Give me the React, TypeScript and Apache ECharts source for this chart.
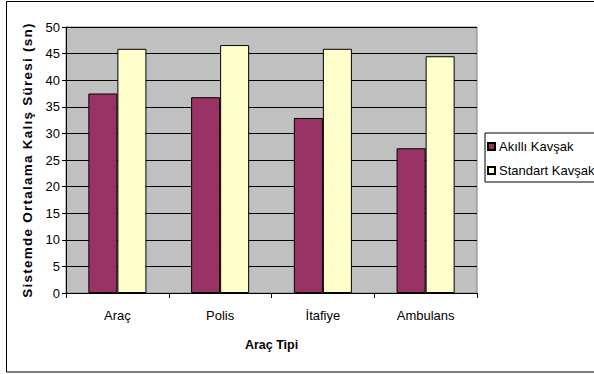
import React, { useEffect, useRef } from "react";
import * as echarts from "echarts";

const categories = ["Araç", "Polis", "İtafiye", "Ambulans"];
const akilliKavsak = [37.5, 36.8, 32.9, 27.2];
const standartKavsak = [45.9, 46.6, 45.9, 44.5];
const seriesNames = ["Akıllı Kavşak", "Standart Kavşak"];
const yAxisTitle = "Sistemde Ortalama Kalış Süresi (sn)";
const xAxisTitle = "Araç Tipi";

const FONT = "Liberation Sans, Arial, sans-serif";

export default function App() {
  const ref = useRef<HTMLDivElement>(null);
  useEffect(() => {
    if (!ref.current) return;
    const chart = echarts.init(ref.current, undefined, { renderer: "svg" });
    chart.setOption({
      animation: false,
      backgroundColor: "#ffffff",
      textStyle: { fontFamily: FONT },
      graphic: [
        {
          type: "rect",
          shape: { x: 6.5, y: 1.5, width: 620, height: 370.5 },
          style: { fill: "none", stroke: "#000", lineWidth: 1 },
          silent: true,
          z: 100,
        },
      ],
      grid: {
        left: 66,
        right: 117,
        top: 27,
        bottom: 81,
        show: true,
        backgroundColor: "#C0C0C0",
        borderColor: "#808080",
        borderWidth: 1,
      },
      legend: {
        orient: "vertical",
        left: 485,
        top: 133,
        padding: [7, 10, 5, 2],
        itemGap: 11,
        itemWidth: 7,
        itemHeight: 7,
        borderColor: "#000",
        borderWidth: 1,
        backgroundColor: "#fff",
        icon: "rect",
        textStyle: { fontFamily: FONT, fontSize: 13, color: "#000", padding: [0, 0, 0, -1] },
        data: seriesNames,
      },
      xAxis: {
        type: "category",
        data: categories,
        name: xAxisTitle,
        nameLocation: "middle",
        nameGap: 45,
        nameTextStyle: { fontFamily: FONT, fontSize: 12.5, fontWeight: "bold", color: "#000" },
        axisLine: { lineStyle: { color: "#000", width: 1 } },
        axisTick: { show: true, alignWithLabel: false, length: 5, lineStyle: { color: "#000" } },
        axisLabel: { color: "#000", fontSize: 13, fontFamily: FONT, margin: 16 },
        splitLine: { show: false },
      },
      yAxis: {
        type: "value",
        min: 0,
        max: 50,
        interval: 5,
        name: yAxisTitle,
        nameLocation: "middle",
        nameRotate: 90,
        nameGap: 30,
        nameTextStyle: { fontFamily: FONT, fontSize: 13.5, fontWeight: "bold", color: "#000" },
        axisLine: { show: true, lineStyle: { color: "#000", width: 1 } },
        axisTick: { show: true, length: 4, lineStyle: { color: "#000" } },
        axisLabel: { color: "#000", fontSize: 13, fontFamily: FONT, margin: 6 },
        splitLine: { show: true, lineStyle: { color: "#000", width: 1 } },
      },
      series: [
        {
          name: seriesNames[0],
          type: "bar",
          data: akilliKavsak,
          barGap: "0%",
          barCategoryGap: "43.5%",
          itemStyle: { color: "#993366", borderColor: "#000", borderWidth: 1 },
        },
        {
          name: seriesNames[1],
          type: "bar",
          data: standartKavsak,
          barGap: "0%",
          barCategoryGap: "43.5%",
          itemStyle: { color: "#FFFFCC", borderColor: "#000", borderWidth: 1 },
        },
      ],
    });
    // Excel-style letter spacing for the vertical axis title
    const texts = ref.current.querySelectorAll("text");
    texts.forEach((t) => {
      if (t.textContent === yAxisTitle) {
        (t as SVGTextElement).style.letterSpacing = "1.25px";
      }
    });
    return () => chart.dispose();
  }, []);
  return (
    <div
      ref={ref}
      style={{ position: "fixed", left: 0, top: 0, width: 594, height: 374 }}
    />
  );
}
